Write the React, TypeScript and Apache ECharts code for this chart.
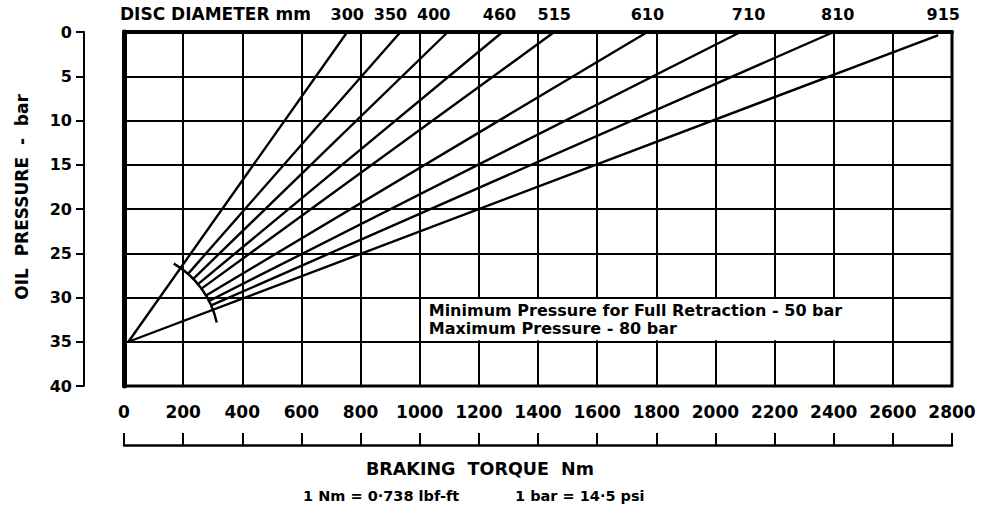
import React, { useEffect, useRef } from 'react';
import * as echarts from 'echarts';

// ---- data ----
const torqueMin = 0;
const torqueMax = 2800;
const torqueStep = 200;
const pressureMin = 0;
const pressureMax = 40;
const pressureStep = 5;

const diameters = ['300', '350', '400', '460', '515', '610', '710', '810', '915'];
// torque (Nm) where each diameter line meets the top (0 bar) edge
const topTorque = [755, 935, 1095, 1280, 1455, 1770, 2085, 2400, 2750];
const topPressure = [0, 0, 0, 0, 0, 0, 0, 0, 0.4];
// lines drawn right from the common origin (others start at the arc)
const fromOrigin = [true, false, false, false, false, false, false, false, true];
// common origin of the fan [torque, pressure]
const origin = [15, 35];
// ends of the arc [torque, pressure]
const arcStart = [166, 26.3];
const arcEnd = [318, 32.8];
// note box corners [torque1, pressure1, torque2, pressure2]
const noteBox = [1000, 30, 2600, 35];
const noteLines = ['Minimum Pressure for Full Retraction - 50 bar', 'Maximum Pressure - 80 bar'];

// ---- style ----
const FONT = '"DejaVu Sans", "Liberation Sans", sans-serif';
const labelShift = [0, -10, -14, -3, 0, 0, 8, 4, 6];
const noteLineY = [13, 31];

function arcRadius(api: any): number {
  const c = api.coord(origin);
  const a = api.coord(arcStart);
  const b = api.coord(arcEnd);
  return (Math.hypot(a[0] - c[0], a[1] - c[1]) + Math.hypot(b[0] - c[0], b[1] - c[1])) / 2;
}

export default function App() {
  const ref = useRef<HTMLDivElement>(null);
  useEffect(() => {
    document.body.style.margin = '0';
    const chart = echarts.init(ref.current!, undefined, { renderer: 'svg' });
    const axisBase = { min: torqueMin, max: torqueMax, interval: torqueStep, type: 'value' as const };
    chart.setOption({
      animation: false,
      backgroundColor: '#fff',
      textStyle: { fontFamily: FONT, fontWeight: 'bold', color: '#000' },
      grid: { left: 124, right: 32, top: 32, bottom: 128, show: true, borderColor: '#000', borderWidth: 3 },
      xAxis: [
        {
          ...axisBase,
          position: 'bottom',
          axisLine: { show: false, onZero: false },
          axisTick: { show: false },
          axisLabel: {
            margin: 17,
            fontSize: 17,
            fontWeight: 'bold',
            color: '#000',
            fontFamily: FONT,
            formatter: (v: number) => String(v),
          },
          splitLine: { show: true, lineStyle: { color: '#000', width: 2 } },
        },
        {
          ...axisBase,
          position: 'bottom',
          offset: 59,
          axisLine: { show: true, onZero: false, lineStyle: { color: '#000', width: 2.5 } },
          axisTick: { show: true, inside: true, length: 12, lineStyle: { color: '#000', width: 2 } },
          axisLabel: { show: false },
          splitLine: { show: false },
        },
        {
          ...axisBase,
          position: 'top',
          axisLine: { show: true, onZero: false, lineStyle: { color: '#000', width: 4 } },
          axisTick: { show: false },
          axisLabel: { show: false },
          splitLine: { show: false },
        },
      ],
      yAxis: [
        {
          type: 'value',
          inverse: true,
          min: pressureMin,
          max: pressureMax,
          interval: pressureStep,
          position: 'left',
          offset: 40,
          name: 'OIL  PRESSURE  -  bar',
          nameLocation: 'middle',
          nameRotate: 90,
          nameGap: 54,
          nameTextStyle: { fontSize: 17, fontWeight: 'bold', color: '#000', fontFamily: FONT, padding: [0, 0, 0, 24] },
          axisLine: { show: true, onZero: false, lineStyle: { color: '#000', width: 2 } },
          axisTick: { show: true, length: 8, lineStyle: { color: '#000', width: 2 } },
          axisLabel: { margin: 12, fontSize: 16, fontWeight: 'bold', color: '#000', fontFamily: FONT },
          splitLine: { show: true, lineStyle: { color: '#000', width: 2 } },
        },
        {
          type: 'value',
          inverse: true,
          min: pressureMin,
          max: pressureMax,
          interval: pressureStep,
          position: 'left',
          offset: 0,
          axisLine: { show: true, onZero: false, lineStyle: { color: '#000', width: 5 } },
          axisTick: { show: false },
          axisLabel: { show: false },
          splitLine: { show: false },
        },
      ],
      series: [
        {
          type: 'custom',
          name: 'note',
          xAxisIndex: 0,
          yAxisIndex: 0,
          clip: false,
          data: [noteBox],
          renderItem: (params: any, api: any) => {
            const p1 = api.coord([api.value(0), api.value(1)]);
            const p2 = api.coord([api.value(2), api.value(3)]);
            const x = Math.min(p1[0], p2[0]);
            const y = Math.min(p1[1], p2[1]);
            const w = Math.abs(p2[0] - p1[0]);
            const h = Math.abs(p2[1] - p1[1]);
            return {
              type: 'group',
              children: [
                { type: 'rect', shape: { x: x + 1.5, y: y + 1.5, width: w - 3, height: h - 3 }, style: { fill: '#fff' } },
                ...noteLines.map((line, k) => ({
                  type: 'text',
                  x: x + 9,
                  y: y + noteLineY[k],
                  style: {
                    text: line,
                    fill: '#000',
                    fontSize: 16,
                    fontWeight: 'bold',
                    fontFamily: FONT,
                    align: 'left',
                    verticalAlign: 'middle',
                  },
                })),
              ],
            };
          },
        },
        {
          type: 'custom',
          name: 'arc',
          xAxisIndex: 0,
          yAxisIndex: 0,
          clip: false,
          data: [[arcStart[0], arcStart[1], arcEnd[0], arcEnd[1]]],
          renderItem: (params: any, api: any) => {
            const c = api.coord(origin);
            const a = api.coord([api.value(0), api.value(1)]);
            const b = api.coord([api.value(2), api.value(3)]);
            const r = arcRadius(api);
            return {
              type: 'arc',
              shape: {
                cx: c[0],
                cy: c[1],
                r,
                startAngle: Math.atan2(a[1] - c[1], a[0] - c[0]),
                endAngle: Math.atan2(b[1] - c[1], b[0] - c[0]),
                clockwise: true,
              },
              style: { stroke: '#000', lineWidth: 2.4, fill: 'none' },
            };
          },
        },
        {
          type: 'custom',
          name: 'fan',
          xAxisIndex: 0,
          yAxisIndex: 0,
          clip: false,
          data: topTorque.map((t, i) => [t, topPressure[i]]),
          renderItem: (params: any, api: any) => {
            const i = params.dataIndex;
            const c = api.coord(origin);
            const t = api.coord([api.value(0), api.value(1)]);
            const dx = t[0] - c[0];
            const dy = t[1] - c[1];
            const len = Math.hypot(dx, dy);
            let s = c;
            if (!fromOrigin[i]) {
              const r = arcRadius(api);
              s = [c[0] + (dx / len) * r, c[1] + (dy / len) * r];
            }
            const edge = api.coord([api.value(0), pressureMin]);
            return {
              type: 'group',
              children: [
                {
                  type: 'line',
                  shape: { x1: s[0], y1: s[1], x2: t[0], y2: t[1] },
                  style: { stroke: '#000', lineWidth: 2.4, lineCap: 'round' },
                },
                {
                  type: 'text',
                  x: t[0] + labelShift[i],
                  y: edge[1] - 18,
                  style: {
                    text: diameters[i],
                    fill: '#000',
                    fontSize: 16,
                    fontWeight: 'bold',
                    fontFamily: FONT,
                    align: 'center',
                    verticalAlign: 'middle',
                  },
                },
              ],
            };
          },
        },
      ],
      graphic: [
        {
          type: 'text',
          left: 120,
          top: 5,
          style: { text: 'DISC DIAMETER mm', fill: '#000', fontSize: 17, fontWeight: 'bold', fontFamily: FONT },
        },
        {
          type: 'text',
          x: 480,
          y: 469,
          style: {
            text: 'BRAKING  TORQUE  Nm',
            fill: '#000',
            fontSize: 17.5,
            fontWeight: 'bold',
            fontFamily: FONT,
            align: 'center',
            verticalAlign: 'middle',
          },
        },
        {
          type: 'text',
          x: 303,
          y: 496,
          style: {
            text: '1 Nm = 0·738 lbf-ft',
            fill: '#000',
            fontSize: 14.5,
            fontWeight: 'bold',
            fontFamily: FONT,
            align: 'left',
            verticalAlign: 'middle',
          },
        },
        {
          type: 'text',
          x: 515,
          y: 496,
          style: {
            text: '1 bar = 14·5 psi',
            fill: '#000',
            fontSize: 14.5,
            fontWeight: 'bold',
            fontFamily: FONT,
            align: 'left',
            verticalAlign: 'middle',
          },
        },
      ],
    });
    return () => chart.dispose();
  }, []);
  return <div ref={ref} style={{ width: 984, height: 514 }} />;
}
